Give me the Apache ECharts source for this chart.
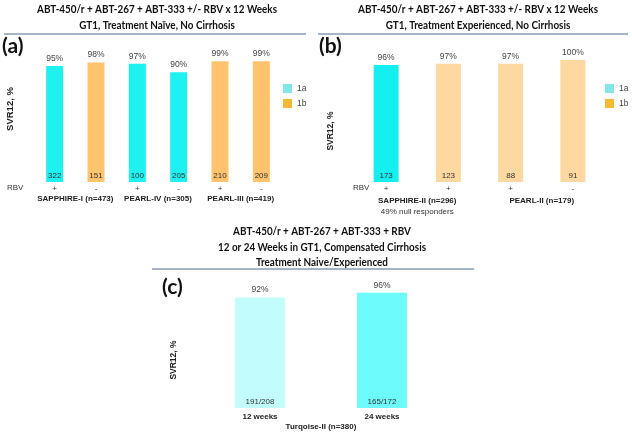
<!DOCTYPE html>
<html><head><meta charset="utf-8">
<script src="https://cdn.jsdelivr.net/npm/echarts@6/dist/echarts.min.js"></script>
<style>html,body{margin:0;padding:0;background:#fff}#c{width:632px;height:433px}</style>
</head><body><div id="c"></div>
<script>
// ---- Panel (a)
const aRbv = ['+', '-', '+', '-', '+', '-'];
const aGenotype = ['1a', '1b', '1a', '1a', '1b', '1b'];
const aSvr = [95, 98, 97, 90, 99, 99];
const aN = ['322', '151', '100', '205', '210', '209'];
const aStudies = ['SAPPHIRE-I (n=473)', 'PEARL-IV (n=305)', 'PEARL-III (n=419)'];
const aTitle = 'ABT-450/r + ABT-267 + ABT-333 +/- RBV x 12 Weeks\nGT1, Treatment Naïve, No Cirrhosis';
// ---- Panel (b)
const bRbv = ['+', '+', '+', '-'];
const bGenotype = ['1a', '1b', '1b', '1b'];
const bSvr = [96, 97, 97, 100];
const bN = ['173', '123', '88', '91'];
const bStudies = ['SAPPHIRE-II (n=296)', 'PEARL-II (n=179)'];
const bNote = '49% null responders';
const bTitle = 'ABT-450/r + ABT-267 + ABT-333 +/- RBV x 12 Weeks\nGT1, Treatment Experienced, No Cirrhosis';
// ---- Panel (c)
const cArms = ['12 weeks', '24 weeks'];
const cSvr = [92, 96];
const cN = ['191/208', '165/172'];
const cStudy = ['Turqoise-II (n=380)'];
const cTitle = 'ABT-450/r + ABT-267 + ABT-333 + RBV\n12 or 24 Weeks in GT1, Compensated Cirrhosis\nTreatment Naive/Experienced';
const genotypes = ['1a', '1b'];
const yName = 'SVR12, %';

// ---- styles
const legendColors = { '1a': '#80e6e6', '1b': '#f6b933' };
const aColors = { '1a': '#1ff1f1', '1b': '#ffc36e' };
const bColors = { '1a': '#14efef', '1b': '#fdd8a0' };
const cColors = ['#c2fcfc', '#6efbfb'];
const TF = 'Lato, "Open Sans", sans-serif';
const AF = '"Liberation Sans", Arial, sans-serif';
const FS = 8;

const chart = echarts.init(document.getElementById('c'), null, { renderer: 'canvas' });

const grids = [
  { left: 34, top: 60, width: 248, height: 122 },
  { left: 355, top: 60, width: 249, height: 122 },
  { left: 199, top: 288, width: 244, height: 120 }
];

function catAxis(g, data, margin, bold) {
  return {
    type: 'category', gridIndex: g, data: data, position: 'bottom',
    axisLine: { show: false }, axisTick: { show: false }, splitLine: { show: false },
    axisLabel: { margin: margin, fontFamily: AF, fontSize: FS, color: bold ? '#222' : '#333',
      fontWeight: bold ? 'bold' : 'normal', interval: 0 }
  };
}
function valAxis(g, gap, size, pad) {
  return {
    type: 'value', gridIndex: g, min: 0, max: 100,
    axisLine: { show: false }, axisTick: { show: false }, axisLabel: { show: false }, splitLine: { show: false },
    name: yName, nameLocation: 'middle', nameGap: gap,
    nameTextStyle: { fontFamily: AF, fontSize: size, fontWeight: 'bold', color: '#222', padding: pad }
  };
}

const xAxes = [
  catAxis(0, aRbv, 3, false),
  catAxis(0, aStudies, 13, true),
  catAxis(1, bRbv, 3, false),
  catAxis(1, bStudies, 13, true),
  catAxis(2, cArms, 5, true),
  catAxis(2, cStudy, 15, true)
];
xAxes[3].axisLabel.formatter = (v, i) => i === 0 ? v + '\n{n|' + bNote + '}' : v;
xAxes[3].axisLabel.lineHeight = 11;
xAxes[3].axisLabel.rich = { n: { fontFamily: AF, fontSize: FS, fontWeight: 'normal', color: '#333', lineHeight: 11 } };

const yAxes = [
  valAxis(0, 19, 9.5, [0, 0, 0, 24]),
  valAxis(1, 20, 8.5, [0, 20, 0, 0]),
  valAxis(2, 21, 8.5, [0, 24, 0, 0])
];

const pctLabel = { show: true, position: 'top', distance: 3, formatter: '{c}%', fontFamily: AF, fontSize: 8.5, color: '#444' };

function genoSeries(svr, geno, colors, xi, yi, bw) {
  return genotypes.map(gname => ({
    type: 'bar', name: gname, xAxisIndex: xi, yAxisIndex: yi, barWidth: bw, barGap: '-100%',
    itemStyle: { color: legendColors[gname] },
    data: svr.map((v, i) => geno[i] === gname ? { value: v, itemStyle: { color: colors[gname] } } : '-'),
    label: pctLabel, silent: true
  }));
}
function countSeries(svr, counts, xi, yi, bw) {
  return {
    type: 'bar', name: 'n', xAxisIndex: xi, yAxisIndex: yi, barWidth: bw, barGap: '-100%',
    itemStyle: { color: 'rgba(0,0,0,0)' }, silent: true, z: 5,
    data: svr.slice(),
    label: { show: true, position: 'insideBottom', distance: 2, fontFamily: AF, fontSize: FS, color: '#333',
      formatter: p => counts[p.dataIndex] }
  };
}

const series = [].concat(
  genoSeries(aSvr, aGenotype, aColors, 0, 0, 17),
  [countSeries(aSvr, aN, 0, 0, 17)],
  genoSeries(bSvr, bGenotype, bColors, 2, 1, 25),
  [countSeries(bSvr, bN, 2, 1, 25)],
  [{
    type: 'bar', name: 'c', xAxisIndex: 4, yAxisIndex: 2, barWidth: 50, silent: true,
    data: cSvr.map((v, i) => ({ value: v, itemStyle: { color: cColors[i] } })),
    label: pctLabel
  }],
  [countSeries(cSvr, cN, 4, 2, 50)]
);

function legendAt(left) {
  return {
    orient: 'vertical', left: left, top: 84, itemWidth: 9, itemHeight: 9, itemGap: 6, padding: 0,
    icon: 'rect', selectedMode: false, data: genotypes,
    textStyle: { fontFamily: AF, fontSize: 8.5, color: '#444' }
  };
}

const panelStyle = { fontFamily: TF, fontWeight: 'bold', fontSize: 21, color: '#111' };
const rbvStyle = { fontFamily: AF, fontWeight: 'normal', fontSize: FS, color: '#333' };

function headText(text, cx, top) {
  return {
    type: 'text', x: cx, y: top, scaleX: 0.86, silent: true,
    style: { text: text, textAlign: 'center', textVerticalAlign: 'top', verticalAlign: 'top',
      font: 'bold 11.5px ' + TF, lineHeight: 15.5, fill: '#111' }
  };
}

chart.setOption({
  animation: false,
  backgroundColor: '#fff',
  title: [
    { text: '(a)', left: 2, top: 36, textStyle: panelStyle, padding: 0 },
    { text: '(b)', left: 319, top: 36, textStyle: panelStyle, padding: 0 },
    { text: '(c)', left: 162, top: 277, textStyle: panelStyle, padding: 0 },
    { text: 'RBV', left: 7, top: 184, textStyle: rbvStyle, padding: 0 },
    { text: 'RBV', left: 353, top: 184, textStyle: rbvStyle, padding: 0 }
  ],
  grid: grids,
  xAxis: xAxes,
  yAxis: yAxes,
  legend: [legendAt(283), legendAt(605)],
  series: series,
  graphic: [
    headText(aTitle, 157, 2),
    headText(bTitle, 478, 2),
    headText(cTitle, 322, 224),
    { type: 'line', shape: { x1: 4, y1: 34, x2: 306, y2: 34 }, style: { stroke: '#4a6890', lineWidth: 1 } },
    { type: 'line', shape: { x1: 318, y1: 34, x2: 628, y2: 34 }, style: { stroke: '#4a6890', lineWidth: 1 } },
    { type: 'line', shape: { x1: 152, y1: 269, x2: 474, y2: 269 }, style: { stroke: '#4a6890', lineWidth: 1 } }
  ]
});
</script></body></html>
